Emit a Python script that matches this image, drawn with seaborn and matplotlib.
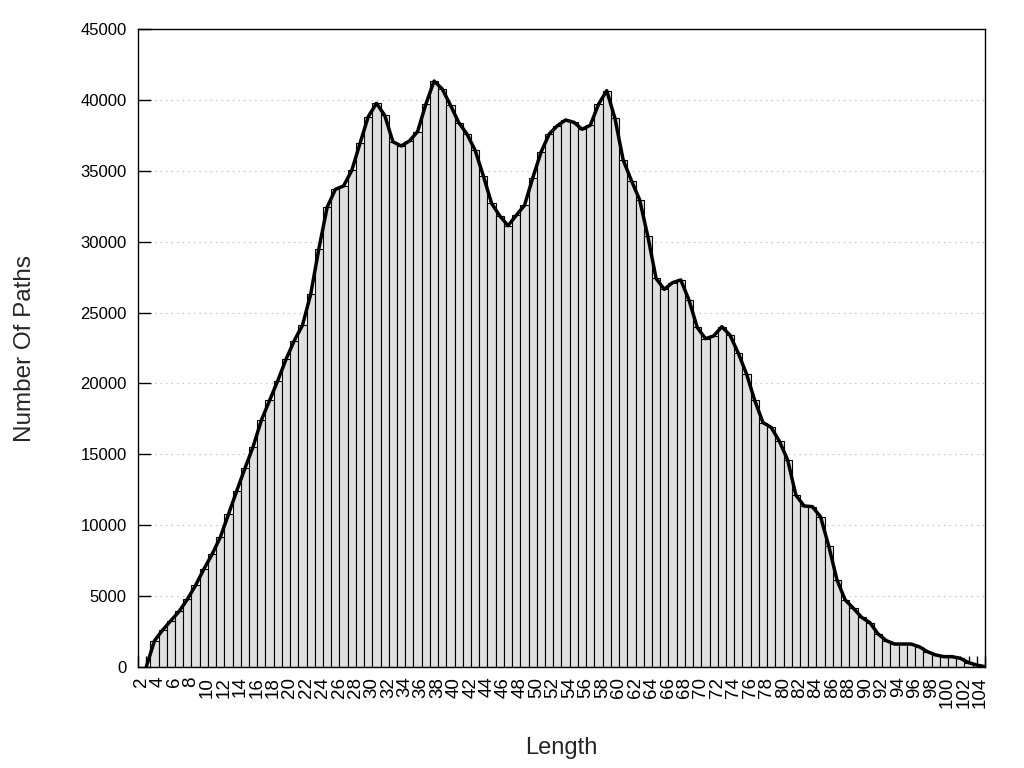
import numpy as np
import pandas as pd
import matplotlib
matplotlib.use('Agg')
import matplotlib.pyplot as plt
import seaborn as sns

# path length -> number of paths
lengths = list(range(2, 105))
counts = [
    0, 1850, 2610, 3270, 3925, 4770, 5760, 6890, 7940, 9140,          # 2-11
    10770, 12410, 14010, 15540, 17400, 18800, 20200, 21700, 23020, 24100,  # 12-21
    26290, 29510, 32420, 33690, 33930, 35030, 36940, 38820, 39760, 38910,  # 22-31
    37050, 36750, 37100, 37760, 39690, 41330, 40770, 39620, 38400, 37600,  # 32-41
    36440, 34630, 32700, 31810, 31130, 31860, 32560, 34490, 36300, 37590,  # 42-51
    38180, 38580, 38420, 37930, 38210, 39690, 40650, 38700, 35760, 34310,  # 52-61
    32960, 30370, 27410, 26640, 27110, 27300, 25890, 23960, 23160, 23350,  # 62-71
    24000, 23400, 22130, 20670, 18800, 17240, 16900, 15920, 14600, 12130,  # 72-81
    11360, 11310, 10600, 8530, 6140, 4730, 4140, 3500, 3130, 2330,         # 82-91
    1860, 1620, 1620, 1620, 1430, 1080, 850, 730, 730, 610,                # 92-101
    310, 140, 20,                                                         # 102-104
]
y_ticks = list(range(0, 45001, 5000))
x_ticks = list(range(2, 105, 2))

df = pd.DataFrame({'Length': lengths, 'Paths': counts})

sns.set_style('white')
plt.rcParams['font.family'] = ['Liberation Sans', 'DejaVu Sans']

fig = plt.figure(figsize=(10.24, 7.68), dpi=100)
ax = fig.add_axes([138 / 1024, 1 - 667 / 768, 847 / 1024, 638 / 768])

sns.histplot(data=df, x='Length', weights='Paths', discrete=True,
             color='#e0e0e0', edgecolor='black', linewidth=0.8, alpha=1,
             ax=ax)
sns.lineplot(data=df, x='Length', y='Paths', color='black', linewidth=2.5,
             ax=ax, zorder=3)

ax.set_xlim(1, 104)
ax.set_ylim(0, 45000)

ax.set_yticks(y_ticks)
ax.set_yticklabels([str(v) for v in y_ticks], fontsize=12)
ax.set_xticks(x_ticks)
ax.set_xticks(range(1, 105), minor=True)
ax.set_xticklabels([str(v) for v in x_ticks], fontsize=13.5, rotation=90,
                   rotation_mode='anchor', ha='right', va='baseline')
ax.tick_params(axis='y', direction='in', length=9, width=1, pad=8,
               left=True, right=False, colors='black')
ax.tick_params(axis='x', which='both', direction='in', length=8, width=1,
               pad=7, bottom=True, top=False, colors='black')

ax.yaxis.grid(True, linestyle=(0, (1, 4)), color='#b0b0b0', linewidth=0.8)
ax.xaxis.grid(False)
ax.set_axisbelow(True)

for s in ax.spines.values():
    s.set_color('black')
    s.set_linewidth(1)

ax.set_xlabel('Length', fontsize=17, va='center')
ax.xaxis.set_label_coords(0.5, (667 - 748) / 638)
ax.set_ylabel('Number Of Paths', fontsize=17.5, va='center')
ax.yaxis.set_label_coords((25 - 138) / 847, 0.5)

fig.savefig('out.png', dpi=100)
